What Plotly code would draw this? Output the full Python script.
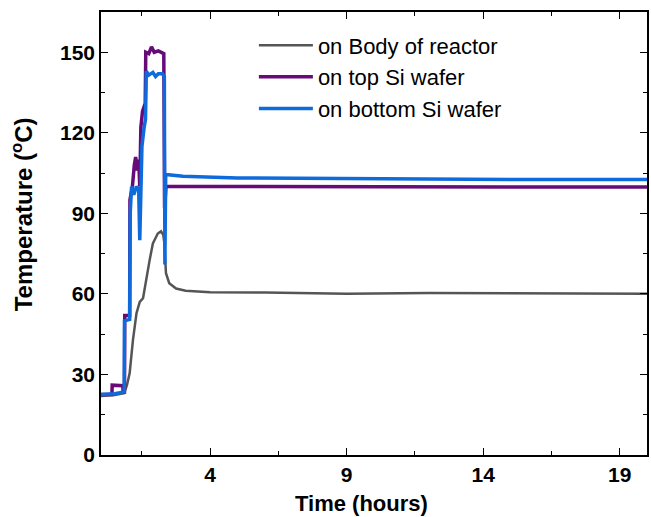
import plotly.graph_objects as go

# ---- data (hours, °C) ----
body_time = [0, 0.5, 0.85, 0.95, 1.05, 1.17, 1.3, 1.42, 1.54, 1.66, 1.78, 1.9, 2.0, 2.08, 2.2,
             2.28, 2.32, 2.38, 2.5, 2.75, 3.1, 4, 6, 9, 12, 16, 20]
body_temp = [22, 22.3, 23, 26, 30.5, 42.8, 52.8, 57, 58.4, 66, 72.5, 78.8, 81, 82.5, 83.3,
             82, 79, 67.7, 64, 62, 61.2, 60.6, 60.5, 60.1, 60.3, 60.2, 60.1]

top_time = [0, 0.4, 0.41, 0.8, 0.81, 0.86, 0.87, 1.05, 1.06, 1.15, 1.22, 1.27, 1.33, 1.38, 1.42,
            1.46, 1.52, 1.58, 1.62, 1.64, 1.75, 1.85, 1.95, 2.1, 2.25, 2.3, 2.33, 2.38,
            3, 5, 10, 15, 20]
top_temp = [22.5, 22.5, 26, 25.8, 23.5, 23.5, 52, 52, 95, 100, 108, 111, 106, 110, 100,
            122, 128, 130, 131, 150, 149.5, 152, 150, 150.5, 149.5, 149.5, 92, 100,
            100, 100, 99.7, 100, 99.8]

bot_time = [0, 0.5, 0.85, 0.86, 1.05, 1.07, 1.12, 1.2, 1.3, 1.38, 1.42, 1.45, 1.5, 1.58, 1.63,
            1.66, 1.75, 1.9, 2.0, 2.1, 2.25, 2.32, 2.34, 2.37, 3, 5, 10, 15, 20]
bot_temp = [22.5, 22.8, 23.5, 50, 50.5, 90, 100, 97, 100, 99, 80, 100, 115, 122, 125,
            143, 141.5, 142.5, 141, 142, 142, 141, 71, 104.5, 103.8, 103.2, 102.8, 102.6, 102.6]

names = ["on Body of reactor", "on top Si wafer", "on bottom Si wafer"]
colors = ["#555555", "#660b78", "#0f6bdc"]

x_ticks = [4, 9, 14, 19]
y_ticks = [0, 30, 60, 90, 120, 150]
x_title = "Time (hours)"
y_title = "Temperature (<sup>o</sup>C)"

FONT = "Liberation Sans, Arial, sans-serif"

fig = go.Figure()
for t, v, n, c, w in [(body_time, body_temp, names[0], colors[0], 2.5),
                      (top_time, top_temp, names[1], colors[1], 3.5),
                      (bot_time, bot_temp, names[2], colors[2], 3.5)]:
    fig.add_trace(go.Scatter(x=t, y=v, mode="lines", name=n,
                             line=dict(color=c, width=w)))

axis_common = dict(
    showline=True, linecolor="black", linewidth=1.5, mirror="allticks",
    ticks="inside", ticklen=7, tickwidth=1.2, tickcolor="black",
    showgrid=False, zeroline=False,
    tickfont=dict(family=FONT, size=21, color="black", weight="bold"),
)

W, H = 651, 517
L, R, T, B = 101, 2, 12, 62
pw, ph = W - L - R, H - T - B

fig.update_layout(
    width=W, height=H,
    margin=dict(l=L, r=R, t=T, b=B),
    paper_bgcolor="white", plot_bgcolor="white",
    xaxis=dict(range=[0, 20], tickmode="array", tickvals=x_ticks,
               minor=dict(tickmode="array", tickvals=[1.5, 6.5, 11.5, 16.5],
                          ticks="inside", ticklen=4, tickcolor="black"),
               **axis_common),
    yaxis=dict(range=[0, 165], tickmode="array", tickvals=y_ticks,
               minor=dict(tickmode="array", tickvals=[15, 45, 75, 105, 135],
                          ticks="inside", ticklen=4, tickcolor="black"),
               **axis_common),
    legend=dict(x=0.28, y=0.972, xanchor="left", yanchor="top",
                bgcolor="rgba(0,0,0,0)", itemwidth=54,
                font=dict(family=FONT, size=22, color="black"),
                tracegroupgap=0),
    showlegend=True,
    annotations=[
        dict(text=x_title, xref="paper", yref="paper",
             x=(362 - L) / pw, y=-(503 - (H - B)) / ph,
             xanchor="center", yanchor="middle", showarrow=False,
             font=dict(family=FONT, size=22, color="black", weight="bold")),
        dict(text=y_title, xref="paper", yref="paper", textangle=-90,
             x=-(L - 22) / pw, y=((H - B) - 214) / ph,
             xanchor="center", yanchor="middle", showarrow=False,
             font=dict(family=FONT, size=24, color="black", weight="bold")),
    ],
)

fig.write_html("out.html")
